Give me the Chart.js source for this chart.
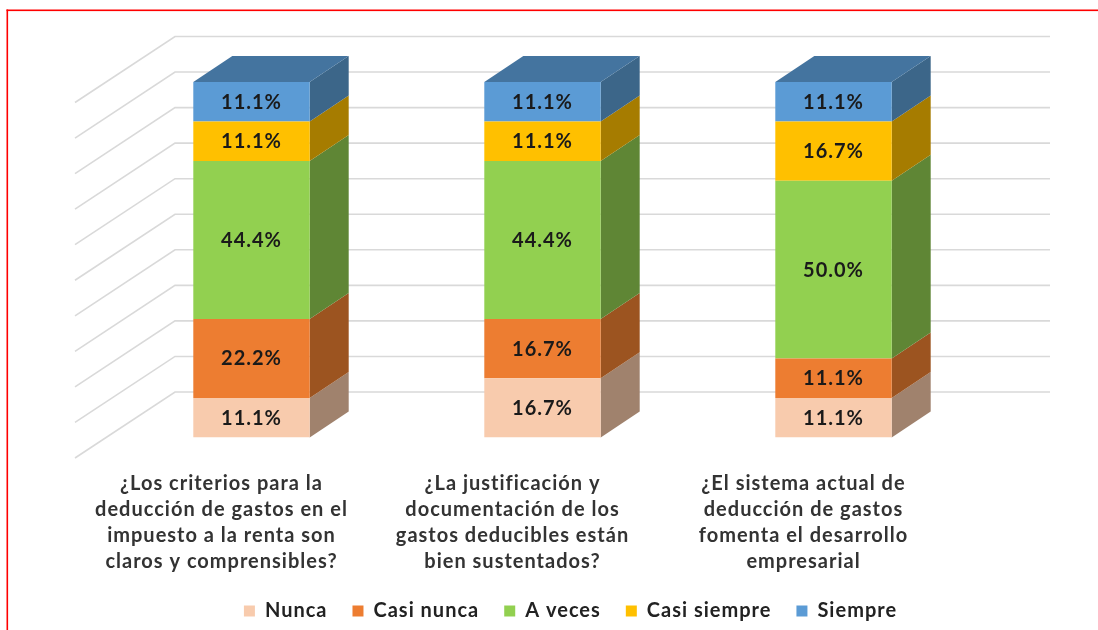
<!DOCTYPE html>
<html><head><meta charset="utf-8">
<style>html,body{margin:0;padding:0;background:#fff;overflow:hidden}
#w{position:relative;width:1098px;height:630px}
canvas{display:block;filter:blur(0.5px)}</style>
<script src="https://cdn.jsdelivr.net/npm/chart.js@4"></script>
</head><body><div id="w"><canvas id="c" width="1098" height="630"></canvas></div>
<script>
const categories = [
  ["¿Los criterios para la","deducción de gastos en el","impuesto a la renta son","claros y comprensibles?"],
  ["¿La justificación y","documentación de los","gastos deducibles están","bien sustentados?"],
  ["¿El sistema actual de","deducción de gastos","fomenta el desarrollo","empresarial"]
];
const seriesNames = ["Nunca","Casi nunca","A veces","Casi siempre","Siempre"];
const nunca = [11.11,16.67,11.11];
const casiNunca = [22.22,16.67,11.11];
const aVeces = [44.44,44.44,50.0];
const casiSiempre = [11.11,11.11,16.67];
const siempre = [11.11,11.11,11.11];
const frontColors = ["#F8CBAD","#ED7D31","#92D050","#FFC000","#5B9BD5"];
const sideColors = ["#A0826D","#9C5420","#5F8635","#A67C00","#3C6689"];
const topColor = "#44749F";
const yTicks = [0,10,20,30,40,50,60,70,80,90,100];
const FONT = "Lato, sans-serif";
const values = [nunca,casiNunca,aVeces,casiSiempre,siempre];
const depth = {dx:39, dy:-26};
const wall = {left:69, right:71, floorLeft:-31, wallDy:-45.5, floorDy:20.5};

const threeD = {
  id:"threeD",
  beforeUpdate(chart){ chart.ctx.letterSpacing = "1px"; },
  beforeDraw(chart){
    const c = chart.ctx;
    c.save();
    c.fillStyle="#fff"; c.fillRect(0,0,chart.width,chart.height);
    c.fillStyle="#FF0000";
    c.fillRect(6.5,9.5,chart.width,1.6);
    c.fillRect(6.5,9.5,1.6,chart.height);
    c.restore();
  },
  afterLayout(chart){
    const l = chart.legend;
    l.left += 28; l.right += 28;
    l.top = 576; l.bottom = 576 + l.height;
  },
  beforeDatasetsDraw(chart){
    const c = chart.ctx, y = chart.scales.y, a = chart.chartArea;
    c.save();
    c.strokeStyle="#D9D9D9"; c.lineWidth=1.6; c.lineJoin="miter";
    yTicks.forEach(t=>{
      const p = y.getPixelForValue(t);
      c.beginPath();
      c.moveTo(a.left+wall.floorLeft,p+wall.floorDy);
      c.lineTo(a.left+wall.left,p+wall.wallDy);
      c.lineTo(a.right+wall.right,p+wall.wallDy);
      c.stroke();
    });
    chart.data.datasets.forEach((ds,di)=>{
      const meta = chart.getDatasetMeta(di);
      meta.data.forEach(b=>{
        const r = b.x+b.width/2;
        c.fillStyle = sideColors[di];
        c.beginPath();
        c.moveTo(r,b.base); c.lineTo(r+depth.dx,b.base+depth.dy);
        c.lineTo(r+depth.dx,b.y+depth.dy); c.lineTo(r,b.y);
        c.closePath(); c.fill();
        if(di===chart.data.datasets.length-1){
          const l = b.x-b.width/2;
          c.fillStyle = topColor;
          c.beginPath();
          c.moveTo(l,b.y); c.lineTo(l+depth.dx,b.y+depth.dy);
          c.lineTo(r+depth.dx,b.y+depth.dy); c.lineTo(r,b.y);
          c.closePath(); c.fill();
        }
      });
    });
    c.restore();
  },
  afterDatasetsDraw(chart){
    const c = chart.ctx;
    c.save();
    c.font = "bold 20px "+FONT; c.fillStyle="#1a1a1a";
    c.textAlign="center"; c.textBaseline="middle";
    chart.data.datasets.forEach((ds,di)=>{
      chart.getDatasetMeta(di).data.forEach((b,i)=>{
        c.fillText(ds.data[i].toFixed(1)+"%", b.x, (b.y+b.base)/2+0.5);
      });
    });
    c.restore();
  }
};

new Chart(document.getElementById("c"),{
  type:"bar",
  data:{labels:categories,datasets:seriesNames.map((n,i)=>({
    label:n,data:values[i],backgroundColor:frontColors[i],borderWidth:0,
    barPercentage:0.4,categoryPercentage:1
  }))},
  options:{
    responsive:false,animation:false,
    layout:{padding:{left:106,right:119,top:82,bottom:0}},
    scales:{
      x:{stacked:true,
        grid:{display:false,drawTicks:false},border:{display:false},
        ticks:{autoSkip:false,maxRotation:0,minRotation:0,labelOffset:-30,padding:33,
          color:"#333333",font:{family:FONT,size:20,weight:"bold",lineHeight:1.3}},
        afterFit(s){ s.height = 192.5 - s.chart.legend.height; }
      },
      y:{stacked:true,min:0,max:100,display:false,ticks:{stepSize:10}}
    },
    plugins:{
      tooltip:{enabled:false},
      legend:{position:"bottom",
        labels:{boxWidth:11,boxHeight:11,padding:25,color:"#222222",
          font:{family:FONT,size:20,weight:"bold"}}}
    }
  },
  plugins:[threeD]
});
</script></body></html>
